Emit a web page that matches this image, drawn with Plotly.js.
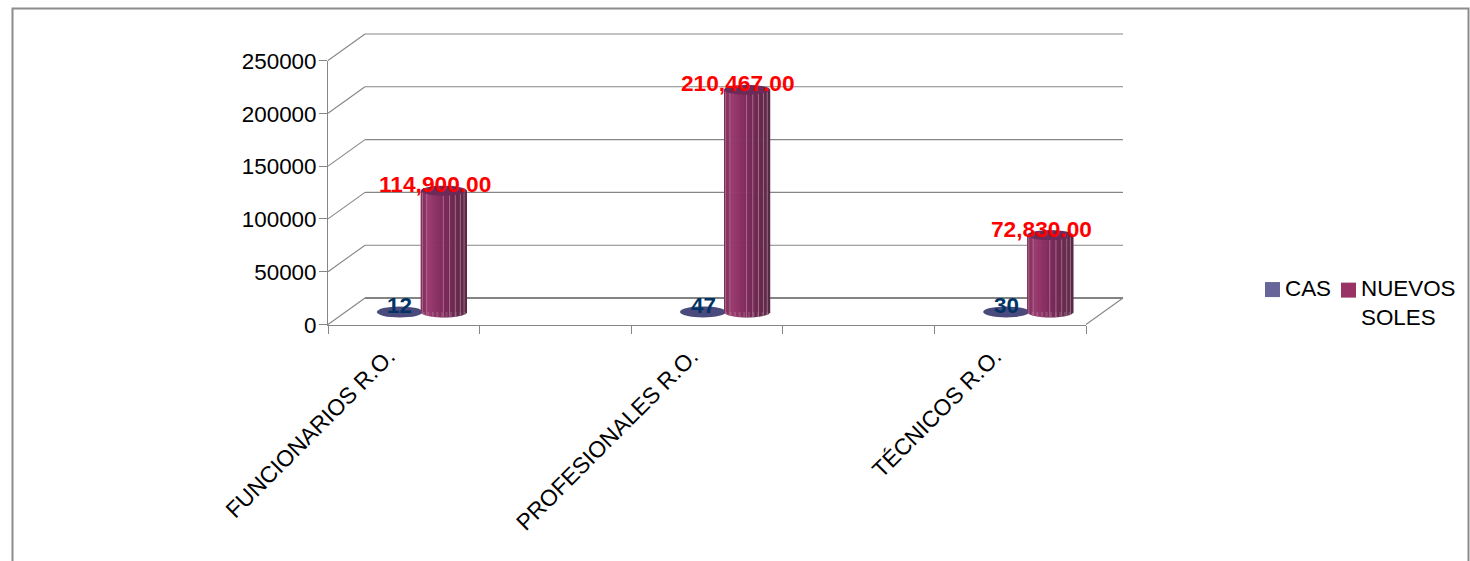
<!DOCTYPE html>
<html>
<head>
<meta charset="utf-8">
<script src="https://cdn.plot.ly/plotly-3.0.1.min.js"></script>
<style>html,body{margin:0;padding:0;background:#fff}#chart{width:1470px;height:561px}</style>
</head>
<body>
<div id="chart"></div>
<script>
const categories = ['FUNCIONARIOS R.O.', ' ', 'PROFESIONALES R.O.', '  ', 'TÉCNICOS R.O.'];
const groupIndex = [0, 2, 4];
const casValues = [12, 47, 30];
const solesValues = [114900, 210467, 72830];
const solesLabels = ['114,900.00', '210,467.00', '72,830.00'];
const yTicks = [0, 50000, 100000, 150000, 200000, 250000];
const stripeSpots = [-0.93, -0.74, -0.02, 0.25, 0.5, 0.72, 0.88];

const W = 1470, H = 561;
const L = 328, R = 1086, Y0 = 324.5, YT = 60.5;
const pxCat = (R - L) / categories.length;
const pxVal = (Y0 - YT) / 250000;
const toX = p => (p - L) / pxCat - 0.5;
const toY = p => (Y0 - p) / pxVal;
const dX = 37 / pxCat, dY = 26.5 / pxVal;
const floorV = 12.5 / pxVal;
const solesOff = 40 / pxCat, casOff = -4 / pxCat;
const halfW = 23 / pxCat;
const GRID = '#868686';

const shapes = [];
function line(x0, y0, x1, y1, color, width) {
  shapes.push({type:'line', xref:'x2', yref:'y2', x0, y0, x1, y1, line:{color, width}, layer:'above'});
}
const xl = -0.5, xr = categories.length - 0.5;
yTicks.forEach(v => {
  line(xl, v, xl + dX, v + dY, GRID, 1.1);
  line(xl + dX, v + dY, xr + dX, v + dY, v === 0 ? '#5a5a5a' : GRID, v === 0 ? 1.6 : 1.1);
});
line(xr, 0, xr + dX, dY, GRID, 1.1);

function lerpColor(a, b, t) {
  return 'rgb(' + a.map((c, i) => Math.round(c + (b[i] - c) * t)).join(',') + ')';
}
function shade(u) {
  const stops = [[-1,[125,45,90]],[-0.65,[155,60,112]],[0,[125,42,90]],[1,[85,42,68]]];
  for (let i = 0; i < stops.length - 1; i++) {
    if (u <= stops[i + 1][0]) return lerpColor(stops[i][1], stops[i + 1][1], (u - stops[i][0]) / (stops[i + 1][0] - stops[i][0]));
  }
  return lerpColor(stops[3][1], stops[3][1], 0);
}
const hBot = 5.5 / pxVal, hTop = 5 / pxVal;

groupIndex.forEach((g, i) => {
  const cx = g + casOff;
  const casTop = floorV + casValues[i];
  shapes.push({type:'circle', xref:'x2', yref:'y2', layer:'above', x0:cx - halfW, x1:cx + halfW,
    y0:casTop - hBot, y1:casTop + hBot, fillcolor:'#4a4a7c', line:{width:0}});
});
groupIndex.forEach((g, i) => {
  const cx = g + solesOff;
  const top = floorV + solesValues[i];
  const n = 36;
  for (let k = 0; k < n; k++) {
    const u0 = -1 + 2 * k / n, u1 = -1 + 2 * (k + 1) / n, um = (u0 + u1) / 2;
    const b = floorV - hBot * Math.sqrt(Math.max(0, 1 - um * um));
    shapes.push({type:'rect', xref:'x2', yref:'y2', layer:'above',
      x0:cx + u0 * halfW, x1:cx + u1 * halfW + 0.0015, y0:b, y1:top,
      fillcolor:shade(um), line:{width:0}});
  }
  stripeSpots.forEach(u => {
    const b = floorV - hBot * Math.sqrt(1 - u * u);
    line(cx + u * halfW, b, cx + u * halfW, top, '#b9849f', 0.7);
  });
  shapes.push({type:'circle', xref:'x2', yref:'y2', layer:'above', x0:cx - halfW, x1:cx + halfW,
    y0:top - hTop, y1:top + hTop, fillcolor:'#6b2a57', line:{width:0}});
});
shapes.push({type:'rect', xref:'paper', yref:'paper', x0:12.5 / W, x1:1468.5 / W,
  y0:-0.2, y1:1 - 8.5 / H, line:{color:'#8c8c8c', width:2}, layer:'below'});

const BIG = 22.4;
const annotations = [];
groupIndex.forEach((g, i) => {
  annotations.push({xref:'x2', yref:'y2', x:g + casOff, y:floorV + casValues[i] + 6 / pxVal,
    text:'<b>' + casValues[i] + '</b>', showarrow:false, xanchor:'center', yanchor:'middle',
    font:{family:'Liberation Sans', size:BIG, color:'#003366'}});
  annotations.push({xref:'x2', yref:'y2', x:g + solesOff - 9 / pxCat, y:floorV + solesValues[i] + 6.5 / pxVal,
    text:'<b>' + solesLabels[i] + '</b>', showarrow:false, xanchor:'center', yanchor:'middle',
    font:{family:'Liberation Sans', size:BIG + 0.3, color:'#ff0000'}});
});

const traces = [
  {type:'bar', name:'CAS', legend:'legend', xaxis:'x2', yaxis:'y2', x:groupIndex.map(g => g + casOff), y:casValues,
   base:groupIndex.map(() => floorV), width:2 * halfW, marker:{color:'#666699'}},
  {type:'bar', name:'NUEVOS<br>SOLES', legend:'legend2', xaxis:'x2', yaxis:'y2', x:groupIndex.map(g => g + solesOff), y:solesValues,
   base:groupIndex.map(() => floorV), width:2 * halfW, marker:{color:'#993366'}},
  {type:'scatter', mode:'none', x:categories, y:categories.map(() => 0), xaxis:'x', yaxis:'y', showlegend:false, hoverinfo:'skip'}
];

const legendBase = {xanchor:'left', yanchor:'top', bgcolor:'rgba(0,0,0,0)', borderwidth:0,
  font:{size:BIG, family:'Liberation Sans', color:'#000'}};
const layout = {
  width:W, height:H, margin:{l:0, r:0, t:0, b:0}, paper_bgcolor:'#fff', plot_bgcolor:'rgba(0,0,0,0)',
  font:{family:'Liberation Sans', size:BIG, color:'#000'},
  barmode:'overlay', showlegend:true,
  xaxis:{domain:[L / W, R / W], anchor:'y', type:'category', categoryorder:'array', categoryarray:categories,
    range:[-0.5, categories.length - 0.5],
    tickson:'boundaries', ticks:'outside', ticklen:8, tickcolor:GRID, tickangle:-45, showgrid:false, zeroline:false,
    showline:true, linecolor:GRID, linewidth:1, tickfont:{size:BIG + 0.4, family:'Liberation Sans', color:'#000'}, automargin:false},
  yaxis:{domain:[1 - Y0 / H, 1 - YT / H], anchor:'x', range:[0, 250000], tickvals:yTicks, ticktext:yTicks.map(String),
    ticks:'outside', ticklen:8, tickcolor:GRID, showgrid:false, zeroline:false, showline:true, linecolor:GRID, linewidth:1,
    tickfont:{size:BIG, family:'Liberation Sans', color:'#000'}, automargin:false},
  xaxis2:{domain:[0, 1], anchor:'y2', range:[toX(0), toX(W)], visible:false, fixedrange:true},
  yaxis2:{domain:[0, 1], anchor:'x2', range:[toY(H), toY(0)], visible:false, fixedrange:true},
  legend:Object.assign({x:1245 / W, y:1 - 266 / H}, legendBase),
  legend2:Object.assign({x:1321 / W, y:1 - 266 / H}, legendBase),
  shapes, annotations
};
function legendTweaks() {
  document.querySelectorAll('g.traces').forEach(tr => {
    const isSoles = tr.textContent.indexOf('NUEVOS') >= 0;
    tr.querySelectorAll('g.legendpoints path').forEach(p => {
      p.setAttribute('transform', 'translate(27.5,' + (isSoles ? -11.5 : 2.5) + ') scale(1.25)');
    });
    if (isSoles) {
      const lines = tr.querySelectorAll('.legendtext tspan.line');
      if (lines[1]) lines[1].setAttribute('dy', '1.16em');
    }
  });
}
Plotly.newPlot('chart', traces, layout, {displayModeBar:false, staticPlot:true}).then(() => {
  const nudge = (el, dx, dy) => el.setAttribute('transform', 'translate(' + dx + ',' + dy + ') ' + (el.getAttribute('transform') || ''));
  document.querySelectorAll('.xaxislayer-above .xtick text').forEach(t => nudge(t, -15.5, 8.5));
  document.querySelectorAll('.yaxislayer-above .ytick text').forEach(t => nudge(t, 2, 0.5));
  legendTweaks();
  setTimeout(legendTweaks, 60);
});
</script>
</body>
</html>
